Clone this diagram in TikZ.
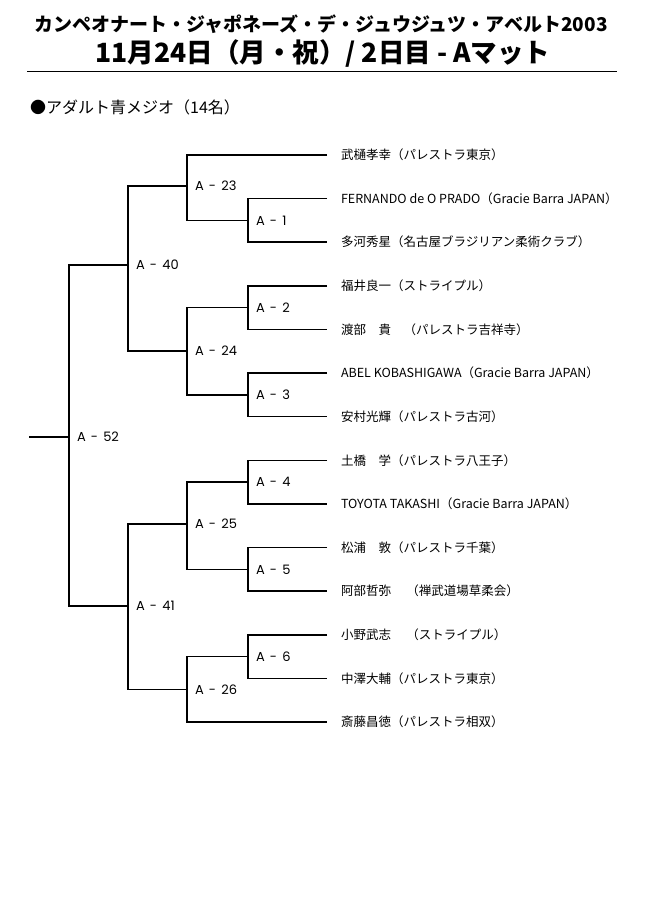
\documentclass[tikz,border=0pt]{standalone}
\usepackage{fontspec}
\usepackage{tikz}
\newfontfamily\jpfont{Noto Sans CJK JP}
\newfontfamily\matchfont{Poppins}[WordSpace=1.5]

\tikzset{
  bracket/.style={line width=1.5pt},
  player/.style={anchor=west, inner xsep=14pt, inner ysep=0pt, outer sep=0pt,
    font=\jpfont\fontsize{12.5}{14}\selectfont},
  match/.style={anchor=west, inner xsep=8pt, inner ysep=0pt, outer sep=0pt,
    font=\matchfont\fontsize{13}{15}\selectfont},
  heading/.style={inner sep=0pt, font=\jpfont\bfseries},
}

\begin{document}
\begin{tikzpicture}[x=1pt, y=-1pt]
        \useasboundingbox (0,0) rectangle (650,913);
        % heading
        \node[heading, font=\jpfont\bfseries\fontsize{19}{22}\selectfont] (title) at (321,24) {カンペオナート・ジャポネーズ・デ・ジュウジュツ・アベルト2003};
        \node[heading, font=\jpfont\bfseries\fontsize{26.5}{30}\selectfont] (date) at (323,53) {11月24日（月・祝）/ 2日目 - Aマット};
        \draw[line width=1pt] (27,71) -- (617,71);
        \node[anchor=west, inner sep=0pt, font=\jpfont\fontsize{16}{19}\selectfont] (group) at (30,107) {●アダルト青メジオ（14名）};
        % players
        \node[player] (p1) at (327,155.0) {武樋孝幸（パレストラ東京）};
        \node[player] (p2) at (327,198.6) {FERNANDO de O PRADO（Gracie Barra JAPAN）};
        \node[player] (p3) at (327,242.2) {多河秀星（名古屋ブラジリアン柔術クラブ）};
        \node[player] (p4) at (327,285.9) {福井良一（ストライプル）};
        \node[player] (p5) at (327,329.5) {渡部　貴　（パレストラ吉祥寺）};
        \node[player] (p6) at (327,373.1) {ABEL KOBASHIGAWA（Gracie Barra JAPAN）};
        \node[player] (p7) at (327,416.7) {安村光輝（パレストラ古河）};
        \node[player] (p8) at (327,460.3) {土橋　学（パレストラ八王子）};
        \node[player] (p9) at (327,504.0) {TOYOTA TAKASHI（Gracie Barra JAPAN）};
        \node[player] (p10) at (327,547.6) {松浦　敦（パレストラ千葉）};
        \node[player] (p11) at (327,591.2) {阿部哲弥　 （禅武道場草柔会）};
        \node[player] (p12) at (327,634.8) {小野武志　 （ストライプル）};
        \node[player] (p13) at (327,678.4) {中澤大輔（パレストラ東京）};
        \node[player] (p14) at (327,722.1) {斎藤昌徳（パレストラ相双）};
        % matches
        \node[match] (m1) at (248,220.4) {A - 1};
        \node[match] (m2) at (248,307.7) {A - 2};
        \node[match] (m3) at (248,394.9) {A - 3};
        \node[match] (m4) at (248,482.2) {A - 4};
        \node[match] (m5) at (248,569.4) {A - 5};
        \node[match] (m6) at (248,656.6) {A - 6};
        \node[match] (m23) at (187,186) {A - 23};
        \node[match] (m24) at (187,351) {A - 24};
        \node[match] (m25) at (187,524) {A - 25};
        \node[match] (m26) at (187,689.4) {A - 26};
        \node[match] (m40) at (128,265) {A - 40};
        \node[match] (m41) at (128,606) {A - 41};
        \node[match] (m52) at (69,437) {A - 52};
        \coordinate (root) at (29,437);
        % brackets
        \draw[bracket] (p2.west) -| (m1.west) |- (p3.west);
        \draw[bracket] (p4.west) -| (m2.west) |- (p5.west);
        \draw[bracket] (p6.west) -| (m3.west) |- (p7.west);
        \draw[bracket] (p8.west) -| (m4.west) |- (p9.west);
        \draw[bracket] (p10.west) -| (m5.west) |- (p11.west);
        \draw[bracket] (p12.west) -| (m6.west) |- (p13.west);
        \draw[bracket] (p1.west) -| (m23.west) |- (m1.west);
        \draw[bracket] (m2.west) -| (m24.west) |- (m3.west);
        \draw[bracket] (m4.west) -| (m25.west) |- (m5.west);
        \draw[bracket] (m6.west) -| (m26.west) |- (p14.west);
        \draw[bracket] (m23.west) -| (m40.west) |- (m24.west);
        \draw[bracket] (m25.west) -| (m41.west) |- (m26.west);
        \draw[bracket] (m40.west) -| (m52.west) |- (m41.west);
        \draw[bracket] (root) -- (m52.west);
    \end{tikzpicture}
\end{document}
